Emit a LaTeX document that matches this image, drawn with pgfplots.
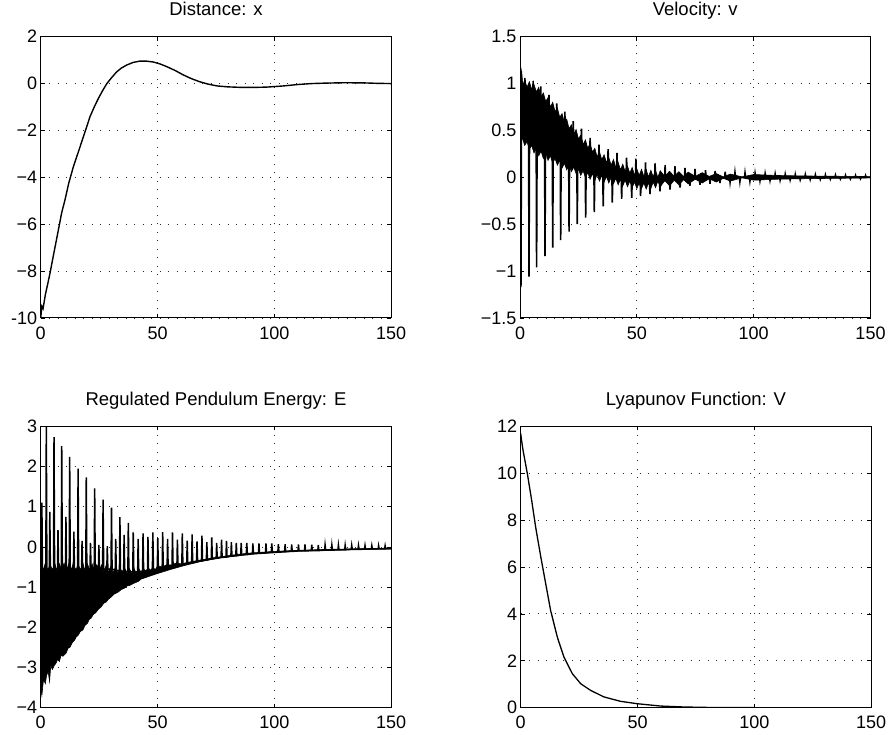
\documentclass[border=0pt]{standalone}
\usepackage{fontspec}
\setmainfont{Liberation Sans}
\usepackage{pgfplots}
\pgfplotsset{compat=1.18}

% MATLAB-like subplot look
\pgfplotsset{mat/.style={
  scale only axis, width=350.5pt, height=281.3pt,
  xmin=0, xmax=150, xtick={0,50,100,150}, xticklabels={0,50,100,150},
  grid=major, grid style={black!85, line width=0.9pt, dash pattern=on 1pt off 7.5pt},
  axis line style={line width=1pt}, tick align=inside, major tick length=4pt,
  tick style={black, line width=0.8pt},
  ticklabel style={font=\fontsize{18}{18}\selectfont},
  xticklabel style={yshift=-5pt},
  title style={font=\fontsize{18.5}{18.5}\selectfont, at={(0.5,1)}, anchor=base, yshift=15pt},
  every axis plot/.append style={black, line width=1.1pt},
}}

\begin{document}
\begin{tikzpicture}
\useasboundingbox (0,0) rectangle (888pt,735pt);

% Distance
\begin{axis}[mat, at={(40.7pt,417pt)}, anchor=south west, title={Distance: x},
  ymin=-10, ymax=2, ytick={-10,-8,-6,-4,-2,0,2}, yticklabels={-10,−8,−6,−4,−2,0,2}]
  \addplot[line width=1.4pt] coordinates {(0,-10) (0.5,-9.5) (1,-9.6) (2,-9.0) (3,-8.55) (4,-8.08) (5.5,-7.3) (7.3,-6.38) (9,-5.5) (10.4,-4.96) (12,-4.25) (14,-3.54) (16,-2.95) (17.6,-2.47) (19.5,-1.9) (21.1,-1.41) (23,-0.98) (24.7,-0.63) (26.5,-0.3) (28.3,0) (30.5,0.27) (32.5,0.5) (34.5,0.66) (36.8,0.79) (39.5,0.9) (42.5,0.96) (45,0.96) (48.2,0.92) (51,0.84) (54,0.72) (57.5,0.56) (61,0.37) (64.5,0.21) (68,0.08) (71.5,-0.02) (75.4,-0.1) (80,-0.14) (85,-0.16) (91,-0.165) (96.8,-0.15) (104,-0.1) (110,-0.04) (116,0) (122,0.02) (130,0.035) (138,0.03) (144,0.01) (150,0)};
\end{axis}

% Velocity
\begin{axis}[mat, at={(520pt,417pt)}, anchor=south west, title={Velocity: v},
  ymin=-1.5, ymax=1.5, ytick={-1.5,-1,-0.5,0,0.5,1,1.5}, yticklabels={−1.5,−1,−0.5,0,0.5,1,1.5}]
  \addplot[fill=black, line width=0.6pt] coordinates {(0,1.0) (0.7,1.14) (1.2,0.98) (2,1.04) (3,0.96) (4,1.02) (5,0.94) (6,0.99) (7,0.91) (8,0.96) (9,0.86) (10,0.9) (11,0.81) (12,0.85) (13,0.75) (14,0.8) (15,0.7) (16,0.74) (17,0.64) (18,0.68) (19,0.58) (20,0.62) (21,0.52) (22,0.56) (23,0.46) (24,0.51) (25,0.41) (26,0.45) (27,0.35) (28,0.4) (29,0.31) (30,0.36) (31,0.27) (32,0.31) (33,0.22) (34,0.27) (35,0.19) (36,0.24) (37,0.16) (38,0.21) (39,0.13) (40,0.19) (41,0.105) (42,0.16) (43,0.08) (44,0.14) (45,0.06) (46,0.12) (47,0.045) (48,0.105) (49,0.025) (50,0.09) (51,0.02) (52,0.085) (53,0.01) (54,0.08) (55,0.005) (56,0.075) (57,0.005) (58,0.075) (59,0.0) (60,0.07) (62,0.01) (64,0.065) (66,0.01) (68,0.06) (70,0.01) (72,0.055) (75,0.01) (78,0.05) (81,0.01) (84,0.04) (87,0.005) (90,0.035) (95,0.005) (100,0.03) (110,0.02) (120,0.015) (150,0.008)
    (150,-0.006) (120,-0.015) (110,-0.02) (100,-0.03) (95,-0.005) (90,-0.04) (87,-0.01) (84,-0.05) (81,-0.015) (78,-0.06) (75,-0.02) (72,-0.07) (70,-0.025) (68,-0.08) (66,-0.03) (64,-0.09) (62,-0.035) (60,-0.1) (59,-0.04) (58,-0.11) (57,-0.05) (56,-0.12) (55,-0.06) (54,-0.125) (53,-0.06) (52,-0.12) (51,-0.06) (50,-0.12) (49,-0.05) (48,-0.11) (47,-0.04) (46,-0.1) (45,-0.03) (44,-0.09) (43,-0.02) (42,-0.08) (41,-0.01) (40,-0.07) (39,0.0) (38,-0.06) (37,0.01) (36,-0.05) (35,0.02) (34,-0.04) (33,0.03) (32,-0.03) (31,0.04) (30,-0.02) (29,0.05) (28,0.0) (27,0.07) (26,0.02) (25,0.09) (24,0.04) (23,0.11) (22,0.06) (21,0.13) (20,0.08) (19,0.15) (18,0.1) (17,0.18) (16,0.13) (15,0.2) (14,0.15) (13,0.23) (12,0.18) (11,0.26) (10,0.2) (9,0.28) (8,0.23) (7,0.31) (6,0.26) (5,0.34) (4,0.3) (3,0.38) (2,0.34) (1,0.42) (0.3,0.38)};
  \addplot[line width=1.6pt] coordinates {
    (0.2,0.71) (0.4,-1.17) (0.65,0.71) (1.9,0.7) (2.1,1.06) (2.35,0.7)
    (3.65,0.66) (3.85,-1.06) (4.1,0.66) (5.4,0.64) (5.6,1.03) (5.85,0.64)
    (6.9,0.61) (7.1,-0.96) (7.35,0.61) (8.7,0.58) (8.9,0.97) (9.15,0.58)
    (10.5,0.54) (10.7,-0.84) (10.95,0.54) (12.2,0.5) (12.4,0.88) (12.65,0.5)
    (13.8,0.47) (14.0,-0.75) (14.25,0.47) (15.5,0.44) (15.7,0.79) (15.95,0.44)
    (17.2,0.4) (17.4,-0.67) (17.65,0.4) (19.0,0.37) (19.2,0.7) (19.45,0.37)
    (20.8,0.33) (21.0,-0.58) (21.25,0.33) (22.6,0.3) (22.8,0.6) (23.05,0.3)
    (24.3,0.25) (24.5,-0.5) (24.75,0.25) (26.1,0.23) (26.3,0.52) (26.55,0.23)
    (27.9,0.19) (28.1,-0.43) (28.35,0.19) (29.8,0.165) (30.0,0.42) (30.25,0.165)
    (31.6,0.14) (31.8,-0.37) (32.05,0.14) (33.6,0.12) (33.8,0.35) (34.05,0.12)
    (35.4,0.1) (35.6,-0.31) (35.85,0.1) (37.5,0.08) (37.7,0.3) (37.95,0.08)
    (39.3,0.06) (39.5,-0.27) (39.75,0.06) (41.3,0.04) (41.5,0.26) (41.75,0.04)
    (43.3,0.02) (43.5,-0.23) (43.75,0.02) (45.4,0.01) (45.6,0.21) (45.85,0.01)
    (47.6,-0.01) (47.8,-0.22) (48.05,-0.01) (49.4,-0.02) (49.6,0.2) (49.85,-0.02)
    (51.4,-0.025) (51.6,-0.2) (51.85,-0.025) (53.5,-0.03) (53.7,0.16) (53.95,-0.03)
    (55.4,-0.03) (55.6,-0.18) (55.85,-0.03) (57.6,-0.03) (57.8,0.15) (58.05,-0.03)
    (59.7,-0.03) (59.9,-0.15) (60.15,-0.03) (61.9,-0.03) (62.1,0.13) (62.35,-0.03)
    (64.0,-0.025) (64.2,-0.13) (64.45,-0.025) (66.1,-0.02) (66.3,0.12) (66.55,-0.02)
    (68.3,-0.02) (68.5,-0.11) (68.75,-0.02) (70.4,-0.015) (70.6,0.1) (70.85,-0.015)
    (72.5,-0.012) (72.7,-0.09) (72.95,-0.012) (74.7,-0.01) (74.9,0.09) (75.15,-0.01)
    (76.8,-0.008) (77.0,-0.08) (77.25,-0.008) (79.2,-0.006) (79.4,0.076) (79.65,-0.006)
    (81.1,-0.005) (81.3,-0.07) (81.55,-0.005) (83.3,-0.004) (83.5,0.068) (83.75,-0.004)
    (85.4,-0.003) (85.6,-0.06) (85.85,-0.003) (87.6,-0.002) (87.8,0.06) (88.05,-0.002)
    (89.7,0) (89.9,-0.05) (90.15,0) (91.8,0) (92.0,0.052) (92.25,0)
    (93.9,0) (94.1,-0.045) (94.35,0) (96.1,0) (96.3,0.047) (96.55,0)
    (98.2,0) (98.4,-0.04) (98.65,0) (100.4,0) (100.6,0.042) (100.85,0)
    (102.5,0) (102.7,-0.036) (102.95,0) (104.7,0) (104.9,0.038) (105.15,0)
    (106.8,0) (107.0,-0.032) (107.25,0) (109.0,0) (109.2,0.035) (109.45,0)
    (111.1,0) (111.3,-0.029) (111.55,0) (113.3,0) (113.5,0.032) (113.75,0)
    (115.4,0) (115.6,-0.026) (115.85,0) (117.6,0) (117.8,0.03) (118.05,0)
    (119.7,0) (119.9,-0.024) (120.15,0) (121.9,0) (122.1,0.028) (122.35,0)
    (124.0,0) (124.2,-0.022) (124.45,0) (126.2,0) (126.4,0.026) (126.65,0)
    (128.3,0) (128.5,-0.02) (128.75,0) (130.5,0) (130.7,0.024) (130.95,0)
    (132.6,0) (132.8,-0.018) (133.05,0) (134.8,0) (135.0,0.022) (135.25,0)
    (136.9,0) (137.1,-0.016) (137.35,0) (139.1,0) (139.3,0.02) (139.55,0)
    (141.2,0) (141.4,-0.015) (141.65,0) (143.4,0) (143.6,0.019) (143.85,0)
    (145.5,0) (145.7,-0.014) (145.95,0) (147.7,0) (147.9,0.018) (148.15,0) (150,0)};
\end{axis}

% Regulated pendulum energy
\begin{axis}[mat, at={(40.7pt,27.3pt)}, anchor=south west, title={Regulated Pendulum Energy: E},
  ymin=-4, ymax=3, ytick={-4,-3,-2,-1,0,1,2,3}, yticklabels={−4,−3,−2,−1,0,1,2,3}]
  \addplot[fill=black, line width=0.6pt] coordinates {(0,-0.45) (1,-0.58) (2,-0.4) (3,-0.6) (4,-0.42) (5,-0.58) (6,-0.4) (7,-0.6) (8,-0.42) (9,-0.58) (10,-0.4) (11,-0.6) (12,-0.42) (13,-0.58) (14,-0.4) (15,-0.6) (16,-0.42) (17,-0.58) (18,-0.4) (19,-0.6) (20,-0.42) (21,-0.58) (22,-0.42) (23,-0.6) (24,-0.44) (25,-0.6) (26,-0.45) (27,-0.62) (28,-0.46) (29,-0.63) (30,-0.48) (31,-0.64) (32,-0.5) (33,-0.65) (34,-0.52) (35,-0.66) (36,-0.53) (37,-0.67) (38,-0.54) (39,-0.67) (40,-0.55) (41,-0.66) (42,-0.54) (43,-0.65) (44,-0.53) (45,-0.63) (46,-0.51) (47,-0.61) (48,-0.49) (49,-0.58) (50,-0.47) (52,-0.5) (54,-0.44) (56,-0.45) (58,-0.4) (60,-0.42) (65,-0.36) (70,-0.31) (75,-0.26) (80,-0.22) (85,-0.18) (90,-0.15) (95,-0.13) (100,-0.11) (110,-0.085) (120,-0.065) (135,-0.045) (150,-0.03)
    (150,-0.05) (135,-0.065) (125,-0.08) (112,-0.1) (100,-0.135) (90,-0.18) (82,-0.23) (75,-0.29) (68,-0.37) (61,-0.47) (55,-0.57) (49,-0.68) (45,-0.76) (43,-0.8) (41.7,-0.86) (40,-0.9) (38,-0.96) (37,-0.97) (36,-1.02) (34.5,-1.06) (33,-1.13) (31.5,-1.17) (30.3,-1.24) (29,-1.3) (28,-1.37) (27,-1.4) (25.9,-1.49) (24.7,-1.55) (23.5,-1.64) (22.5,-1.68) (21.6,-1.77) (20.8,-1.8) (20,-1.9) (19,-1.95) (18,-2.07) (17,-2.1) (16,-2.2) (15.2,-2.24) (14.5,-2.32) (13.5,-2.38) (12.5,-2.5) (11.7,-2.52) (10.9,-2.64) (9.5,-2.72) (8.8,-2.68) (8,-2.85) (7.2,-2.8) (6.6,-2.89) (5.8,-2.95) (5,-3.05) (4.3,-2.95) (3.8,-3.35) (3.2,-3.1) (2.5,-3.2) (2,-3.4) (1.2,-3.3) (0.5,-3.7) (0,-3.5)};
  \addplot[line width=1.5pt] coordinates {
    (0.3,-0.55) (0.5,1.1) (0.75,-0.55) (2.2,-0.55) (2.4,3.0) (2.65,-0.55)
    (3.7,-0.55) (3.9,0.87) (4.15,-0.55) (5.5,-0.55) (5.7,2.73) (5.95,-0.55)
    (7.2,-0.55) (7.4,0.42) (7.65,-0.55) (8.8,-0.55) (9.0,2.51) (9.25,-0.55)
    (10.6,-0.55) (10.8,0.75) (11.05,-0.55) (12.2,-0.55) (12.4,2.24) (12.65,-0.55)
    (14.0,-0.55) (14.2,0.38) (14.45,-0.55) (15.8,-0.55) (16.0,1.95) (16.25,-0.55)
    (17.5,-0.55) (17.7,0.15) (17.95,-0.55) (19.3,-0.55) (19.5,1.73) (19.75,-0.55)
    (21.1,-0.55) (21.3,0.1) (21.55,-0.55) (22.9,-0.55) (23.1,1.46) (23.35,-0.55)
    (24.7,-0.55) (24.9,0.05) (25.15,-0.55) (26.5,-0.55) (26.7,1.18) (26.95,-0.55)
    (28.3,-0.55) (28.5,0.02) (28.75,-0.55) (30.1,-0.55) (30.3,0.98) (30.55,-0.55)
    (31.9,-0.58) (32.1,0.2) (32.35,-0.58) (33.7,-0.6) (33.9,0.74) (34.15,-0.6)
    (35.5,-0.6) (35.7,0.3) (35.95,-0.6) (37.3,-0.62) (37.5,0.6) (37.75,-0.62)
    (39.4,-0.62) (39.6,0.36) (39.85,-0.62) (41.5,-0.62) (41.7,0.2) (41.95,-0.62)
    (43.6,-0.6) (43.8,0.34) (44.05,-0.6) (45.7,-0.58) (45.9,0.25) (46.15,-0.58)
    (47.8,-0.57) (48.0,0.36) (48.25,-0.57) (49.9,-0.55) (50.1,0.22) (50.35,-0.55)
    (52.0,-0.52) (52.2,0.37) (52.45,-0.52) (54.1,-0.5) (54.3,0.2) (54.55,-0.5)
    (56.2,-0.48) (56.4,0.36) (56.65,-0.48) (58.3,-0.46) (58.5,0.18) (58.75,-0.46)
    (60.4,-0.44) (60.6,0.34) (60.85,-0.44) (62.5,-0.41) (62.7,0.16) (62.95,-0.41)
    (64.6,-0.39) (64.8,0.31) (65.05,-0.39) (66.7,-0.36) (66.9,0.14) (67.15,-0.36)
    (68.8,-0.34) (69.0,0.28) (69.25,-0.34) (70.9,-0.32) (71.1,0.12) (71.35,-0.32)
    (73.0,-0.3) (73.2,0.24) (73.45,-0.3) (75.1,-0.28) (75.3,0.1) (75.55,-0.28)
    (77.2,-0.26) (77.4,0.18) (77.65,-0.26) (79.3,-0.25) (79.5,0.15) (79.75,-0.25)
    (81.4,-0.23) (81.6,0.12) (81.85,-0.23) (83.5,-0.22) (83.7,0.1) (83.95,-0.22)
    (85.6,-0.2) (85.8,0.1) (86.05,-0.2) (88.0,-0.19) (88.2,0.1) (88.45,-0.19)
    (90.6,-0.17) (90.8,0.09) (91.05,-0.17) (93.2,-0.16) (93.4,0.09) (93.65,-0.16)
    (96.2,-0.15) (96.4,0.09) (96.65,-0.15) (98.7,-0.14) (98.9,0.085) (99.15,-0.14)
    (101.5,-0.13) (101.7,0.07) (101.95,-0.13) (104.4,-0.12) (104.6,0.07) (104.85,-0.12)
    (107.2,-0.11) (107.4,0.06) (107.65,-0.11) (110.1,-0.1) (110.3,0.06) (110.55,-0.1)
    (112.9,-0.1) (113.1,0.06) (113.35,-0.1) (115.8,-0.09) (116.0,0.055) (116.25,-0.09)
    (118.6,-0.09) (118.8,0.05) (119.05,-0.09) (121.5,-0.08) (121.7,0.05) (121.95,-0.08)
    (124.4,-0.08) (124.6,0.045) (124.85,-0.08) (127.2,-0.07) (127.4,0.045) (127.65,-0.07)
    (130.1,-0.07) (130.3,0.04) (130.55,-0.07) (132.9,-0.06) (133.1,0.04) (133.35,-0.06)
    (135.8,-0.06) (136.0,0.035) (136.25,-0.06) (138.6,-0.055) (138.8,0.035) (139.05,-0.055)
    (141.5,-0.05) (141.7,0.03) (141.95,-0.05) (144.4,-0.05) (144.6,0.03) (144.85,-0.05)
    (147.2,-0.045) (147.4,0.03) (147.65,-0.045) (150,-0.04)};
\end{axis}

% Lyapunov function
\begin{axis}[mat, at={(520.7pt,27.3pt)}, anchor=south west, title={Lyapunov Function: V},
  ymin=0, ymax=12, ytick={0,2,4,6,8,10,12}, yticklabels={0,2,4,6,8,10,12}]
  \addplot[line width=1.3pt] coordinates {(0,11.7) (0.3,11.45) (1,10.98) (2.85,9.98) (4.7,8.84) (6.4,7.7) (8.6,6.43) (10.7,5.29) (12.8,4.15) (15.7,3.0) (18.5,2.16) (22.1,1.45) (25.7,1.02) (29.9,0.74) (35.6,0.46) (42.8,0.27) (49.9,0.17) (59.9,0.07) (69.9,0.03) (81,0.01) (95,0.003) (110,0) (150,0)};
\end{axis}
\end{tikzpicture}
\end{document}
